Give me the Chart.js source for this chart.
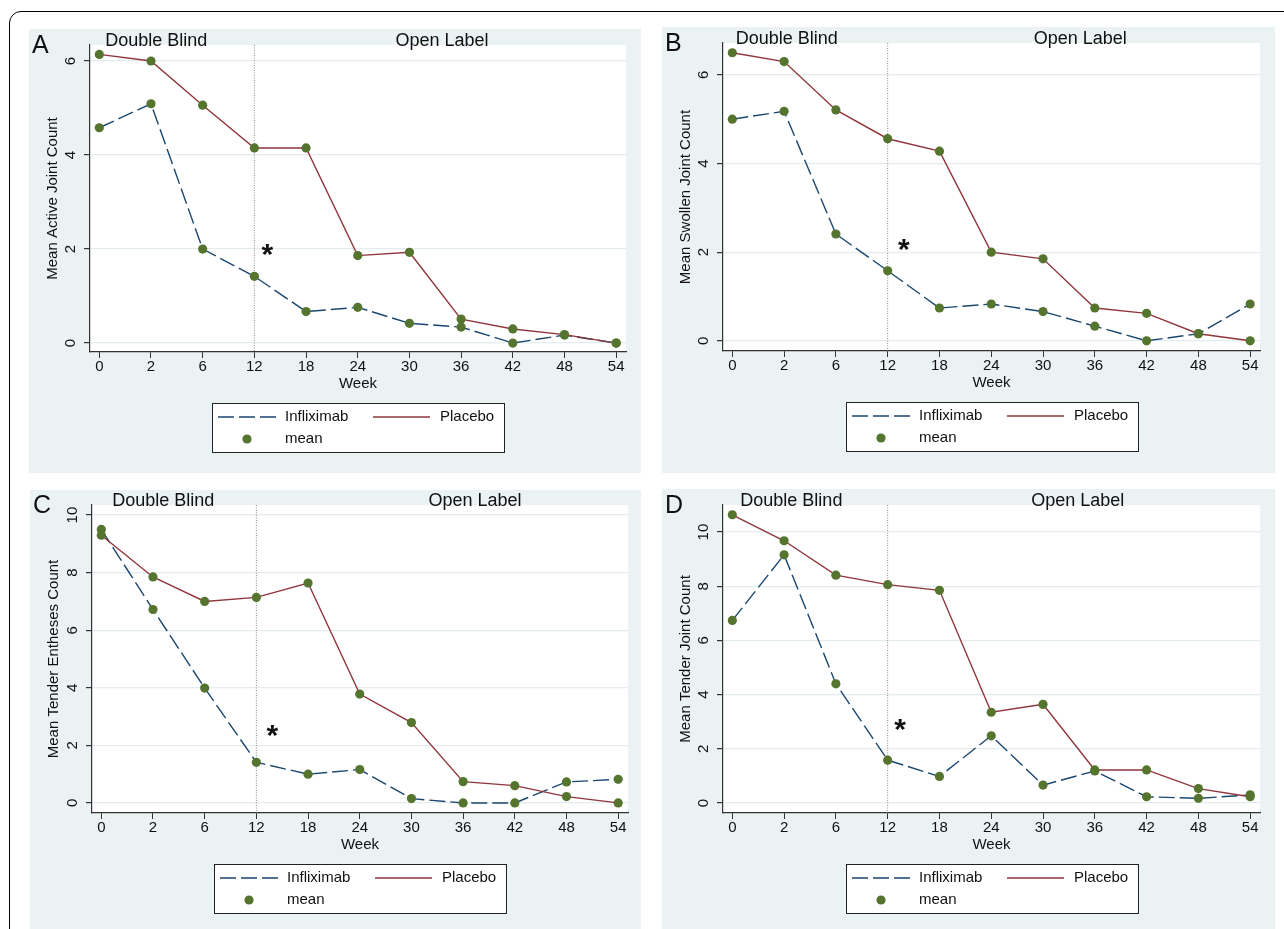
<!DOCTYPE html>
<html>
<head>
<meta charset="utf-8">
<script src="https://cdn.jsdelivr.net/npm/chart.js@4.4.1/dist/chart.umd.min.js"></script>
<style>
  body { margin: 0; width: 1284px; height: 929px; overflow: hidden; background: #fff; position: relative; }
  #frame { position: absolute; left: 9px; top: 11px; width: 1320px; height: 980px; border: 1.5px solid #000; border-radius: 12px; }
  canvas { position: absolute; }
</style>
</head>
<body>
<div id="frame"></div>
<script>
// weeks on the x axis (shown as equally spaced categories)
const weeks = ['0', '2', '6', '12', '18', '24', '30', '36', '42', '48', '54'];
const dividerWeek = '12';

// A - active joints
const infliximabA = [4.58, 5.09, 2.00, 1.42, 0.67, 0.76, 0.42, 0.34, 0.00, 0.17, 0.00];
const placeboA    = [6.14, 6.00, 5.06, 4.15, 4.15, 1.86, 1.93, 0.51, 0.30, 0.18, 0.00];
// B - swollen joints
const infliximabB = [5.00, 5.18, 2.41, 1.58, 0.74, 0.83, 0.66, 0.33, 0.00, 0.16, 0.83];
const placeboB    = [6.50, 6.30, 5.21, 4.56, 4.28, 2.00, 1.85, 0.74, 0.62, 0.16, 0.00];
// C - tender entheses
const infliximabC = [9.50, 6.72, 3.99, 1.41, 1.00, 1.16, 0.15, 0.00, 0.00, 0.73, 0.82];
const placeboC    = [9.30, 7.85, 7.00, 7.14, 7.64, 3.78, 2.79, 0.74, 0.60, 0.22, 0.00];
// D - tender joints
const infliximabD = [6.74, 9.16, 4.40, 1.58, 0.98, 2.48, 0.66, 1.18, 0.23, 0.17, 0.30];
const placeboD    = [10.64, 9.68, 8.41, 8.06, 7.85, 3.35, 3.64, 1.22, 1.22, 0.53, 0.23];

const yTicksA = [0, 2, 4, 6];
const yTicksB = [0, 2, 4, 6];
const yTicksC = [0, 2, 4, 6, 8, 10];
const yTicksD = [0, 2, 4, 6, 8, 10];

const yTitles = ['Mean Active Joint Count', 'Mean Swollen Joint Count', 'Mean Tender Entheses Count', 'Mean Tender Joint Count'];
const phaseLabels = ['Double Blind', 'Open Label'];
const seriesNames = ['Infliximab', 'Placebo', 'mean'];

const blue = '#1a476f', red = '#90353b', green = '#55752f', panelBg = '#eaf2f3', ink = '#111';
Chart.defaults.font.family = '"Liberation Sans", Arial, sans-serif';

// layout: box = [left, top, width, height], plot = [left, top, right, bottom]
const panels = [
  { letter: 'A', title: yTitles[0], inf: infliximabA, pla: placeboA, ticks: yTicksA,
    box: [29, 29, 612, 444], plot: [90, 45, 626, 352], yMin: -0.19, yMax: 6.34,
    phaseX: [1.1, 6.63], star: [3.25, 2.04] },
  { letter: 'B', title: yTitles[1], inf: infliximabB, pla: placeboB, ticks: yTicksB,
    box: [662, 27, 613, 446], plot: [723, 43, 1260, 351], yMin: -0.23, yMax: 6.72,
    phaseX: [1.05, 6.72], star: [3.31, 2.23] },
  { letter: 'C', title: yTitles[2], inf: infliximabC, pla: placeboC, ticks: yTicksC,
    box: [30, 490, 611, 439], plot: [92, 505, 628, 813], yMin: -0.35, yMax: 10.35,
    phaseX: [1.2, 7.23], star: [3.31, 2.6] },
  { letter: 'D', title: yTitles[3], inf: infliximabD, pla: placeboD, ticks: yTicksD,
    box: [662, 489, 613, 440], plot: [723, 505, 1260, 813], yMin: -0.37, yMax: 11.0,
    phaseX: [1.14, 6.67], star: [3.24, 3.0] }
];

const xAxisHeight = 41;

function panelPlugin(p) {
  return {
    id: 'panel' + p.letter,
    beforeDraw(chart) {
      const { ctx, chartArea: a } = chart;
      ctx.save();
      ctx.fillStyle = panelBg;
      ctx.fillRect(0, 0, chart.width, chart.height);
      ctx.fillStyle = '#fff';
      ctx.fillRect(a.left, a.top, a.right - a.left, a.bottom - a.top);
      ctx.restore();
    },
    beforeDatasetsDraw(chart) {
      const { ctx, chartArea: a } = chart;
      const px = chart.scales.x.getPixelForValue(weeks.indexOf(dividerWeek));
      ctx.save();
      ctx.strokeStyle = '#8c8c8c';
      ctx.lineWidth = 1;
      ctx.setLineDash([1, 1.5]);
      ctx.beginPath();
      ctx.moveTo(px, a.top);
      ctx.lineTo(px, a.bottom);
      ctx.stroke();
      ctx.restore();
    },
    afterDraw(chart) {
      const { ctx, chartArea: a, scales: { x, y } } = chart;
      const fam = Chart.defaults.font.family;
      ctx.save();
      ctx.fillStyle = ink;

      // rotated y tick labels
      ctx.font = '15px ' + fam;
      ctx.textAlign = 'center';
      ctx.textBaseline = 'middle';
      y.ticks.forEach(t => {
        ctx.save();
        ctx.translate(a.left - 19, y.getPixelForValue(t.value));
        ctx.rotate(-Math.PI / 2);
        ctx.fillText(String(t.value), 0, 0);
        ctx.restore();
      });

      // panel letter
      ctx.font = '25px ' + fam;
      ctx.textAlign = 'left';
      ctx.textBaseline = 'alphabetic';
      ctx.fillText(p.letter, 3, a.top + 8);

      // study phases
      ctx.font = '18px ' + fam;
      ctx.textAlign = 'center';
      phaseLabels.forEach((txt, i) => ctx.fillText(txt, x.getPixelForValue(p.phaseX[i]), a.top + 1));

      // significance star
      const starSize = 30;
      ctx.font = 'bold ' + starSize + 'px ' + fam;
      ctx.fillText('*', x.getPixelForValue(p.star[0]), y.getPixelForValue(p.star[1]) + 0.57 * starSize);

      // legend box
      const ds = chart.data.datasets;
      const lw = 292, lh = 49;
      const lx = Math.round((a.left + a.right) / 2 - lw / 2), ly = Math.round(a.bottom + 51);
      ctx.fillStyle = '#fff';
      ctx.fillRect(lx, ly, lw, lh);
      ctx.strokeStyle = '#222';
      ctx.lineWidth = 1;
      ctx.strokeRect(lx + 0.5, ly + 0.5, lw, lh);

      const row1 = ly + 14, row2 = ly + 36;
      [[ds[0], 6, 64, 73], [ds[1], 161, 218, 228]].forEach(([d, x0, x1, tx]) => {
        ctx.strokeStyle = d.borderColor;
        ctx.lineWidth = d.borderWidth;
        ctx.setLineDash(d.borderDash || []);
        ctx.beginPath();
        ctx.moveTo(lx + x0, row1);
        ctx.lineTo(lx + x1, row1);
        ctx.stroke();
        ctx.setLineDash([]);
        ctx.fillStyle = ink;
        ctx.font = '15px ' + fam;
        ctx.textAlign = 'left';
        ctx.textBaseline = 'middle';
        ctx.fillText(d.label, lx + tx, row1);
      });
      ctx.fillStyle = ds[2].pointBackgroundColor;
      ctx.beginPath();
      ctx.arc(lx + 35, row2, ds[2].pointRadius, 0, Math.PI * 2);
      ctx.fill();
      ctx.fillStyle = ink;
      ctx.fillText(ds[2].label, lx + 73, row2);
      ctx.restore();
    }
  };
}

function makeChart(p) {
  const [bx, by, bw, bh] = p.box;
  const [pl, pt, pr, pb] = p.plot;
  const canvas = document.createElement('canvas');
  canvas.width = bw;
  canvas.height = bh;
  canvas.style.left = bx + 'px';
  canvas.style.top = by + 'px';
  document.body.appendChild(canvas);

  const pts = arr => arr.map((v, i) => ({ x: i, y: v }));

  new Chart(canvas, {
    type: 'line',
    data: {
      datasets: [
        { label: seriesNames[0], data: pts(p.inf), borderColor: blue, borderWidth: 1.4,
          borderDash: [16, 5], pointRadius: 0, order: 2 },
        { label: seriesNames[1], data: pts(p.pla), borderColor: red, borderWidth: 1.4,
          pointRadius: 0, order: 1 },
        { label: seriesNames[2], data: pts(p.inf).concat(pts(p.pla)), showLine: false,
          pointRadius: 4.6, pointBackgroundColor: green, pointBorderColor: green,
          pointBorderWidth: 0, order: 0 }
      ]
    },
    options: {
      responsive: false,
      animation: false,
      events: [],
      layout: { padding: { left: 0, top: pt - by, right: bx + bw - pr, bottom: by + bh - pb - xAxisHeight } },
      plugins: { legend: { display: false }, tooltip: { enabled: false } },
      scales: {
        x: {
          type: 'linear', min: -0.18, max: 10.19,
          afterBuildTicks: s => { s.ticks = weeks.map((w, i) => ({ value: i })); },
          afterFit: s => { s.height = xAxisHeight; },
          ticks: { callback: v => weeks[v], padding: 0, maxRotation: 0, font: { size: 15 }, color: ink },
          grid: { drawOnChartArea: false, tickLength: 6, tickColor: '#333' },
          border: { color: '#333', width: 1.2 },
          title: { display: true, text: 'Week', font: { size: 15 }, color: ink, padding: 0 }
        },
        y: {
          min: p.yMin, max: p.yMax,
          afterBuildTicks: s => { s.ticks = p.ticks.map(v => ({ value: v })); },
          afterFit: s => { s.width = pl - bx; },
          ticks: { display: false },
          grid: { color: '#e3ecef', lineWidth: 1.2, tickLength: 6, tickColor: '#333' },
          border: { color: '#333', width: 1.2 },
          title: { display: true, text: p.title, font: { size: 15 }, color: ink, padding: { top: 15, bottom: 0 } }
        }
      }
    },
    plugins: [panelPlugin(p)]
  });
}

panels.forEach(makeChart);
</script>
</body>
</html>
